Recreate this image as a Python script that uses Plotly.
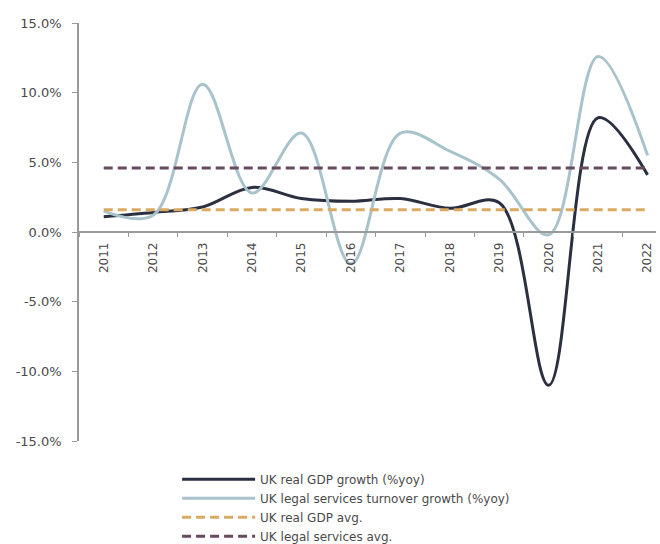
import plotly.graph_objects as go

# Years on the category axis
years = ["2011", "2012", "2013", "2014", "2015", "2016",
         "2017", "2018", "2019", "2020", "2021", "2022"]

# Annual growth rates, % year on year
gdp_growth = [1.1, 1.4, 1.8, 3.2, 2.4, 2.2, 2.4, 1.7, 2.1, -11.0, 8.2, 4.1]
legal_growth = [1.5, 1.2, 10.6, 2.8, 7.1, -2.3, 7.1, 5.8, 3.8, -0.2, 12.6, 5.5]

# Period averages, %
gdp_avg = 1.6
legal_avg = 4.6

# Y-axis ticks
y_ticks = [-15, -10, -5, 0, 5, 10, 15]
y_tick_labels = ["-15.0%", "-10.0%", "-5.0%", "0.0%", "5.0%", "10.0%", "15.0%"]

FONT = "DejaVu Sans, Liberation Sans, Arial, sans-serif"
TEXT_COLOR = "#4a4a4a"
AXIS_COLOR = "#9a9a9a"

fig = go.Figure()

fig.add_trace(go.Scatter(
    x=years, y=gdp_growth, mode="lines",
    name="UK real GDP growth (%yoy)",
    line=dict(color="#2b3040", width=3, shape="spline", smoothing=1.0),
))
fig.add_trace(go.Scatter(
    x=years, y=legal_growth, mode="lines",
    name="UK legal services turnover growth (%yoy)",
    line=dict(color="#a9c3cc", width=3, shape="spline", smoothing=1.0),
))
fig.add_trace(go.Scatter(
    x=years, y=[gdp_avg] * len(years), mode="lines",
    name="UK real GDP avg.",
    line=dict(color="#d9aa62", width=3, dash="9px,5px"),
))
fig.add_trace(go.Scatter(
    x=years, y=[legal_avg] * len(years), mode="lines",
    name="UK legal services avg.",
    line=dict(color="#684a5e", width=3, dash="9px,5px"),
))

fig.update_layout(
    width=660, height=544,
    margin=dict(l=79, r=4, t=23, b=103, autoexpand=False),
    paper_bgcolor="white", plot_bgcolor="white",
    font=dict(family=FONT, size=12, color=TEXT_COLOR),
    showlegend=True,
    legend=dict(
        x=0.17, y=-0.057, xanchor="left", yanchor="top",
        orientation="v", bgcolor="rgba(0,0,0,0)",
        font=dict(family=FONT, size=12, color=TEXT_COLOR),
        itemwidth=73, tracegroupgap=0,
    ),
    xaxis=dict(
        type="category",
        range=[-0.5, 11.17],
        anchor="free", position=0.5,
        showline=True, linecolor=AXIS_COLOR, linewidth=1.5,
        ticks="outside", ticklen=4, tickcolor=AXIS_COLOR,
        tickson="boundaries",
        tickangle=-90, ticklabelstandoff=5,
        showgrid=False, zeroline=False,
        tickfont=dict(family=FONT, size=12, color=TEXT_COLOR),
    ),
    yaxis=dict(
        range=[-15, 15],
        tickvals=y_ticks, ticktext=y_tick_labels,
        showline=True, linecolor=AXIS_COLOR, linewidth=1.5,
        ticks="outside", ticklen=5, tickcolor=AXIS_COLOR,
        ticklabelstandoff=8,
        showgrid=False, zeroline=False,
        tickfont=dict(family=FONT, size=13, color=TEXT_COLOR),
    ),
)

fig.write_html("out.html")
